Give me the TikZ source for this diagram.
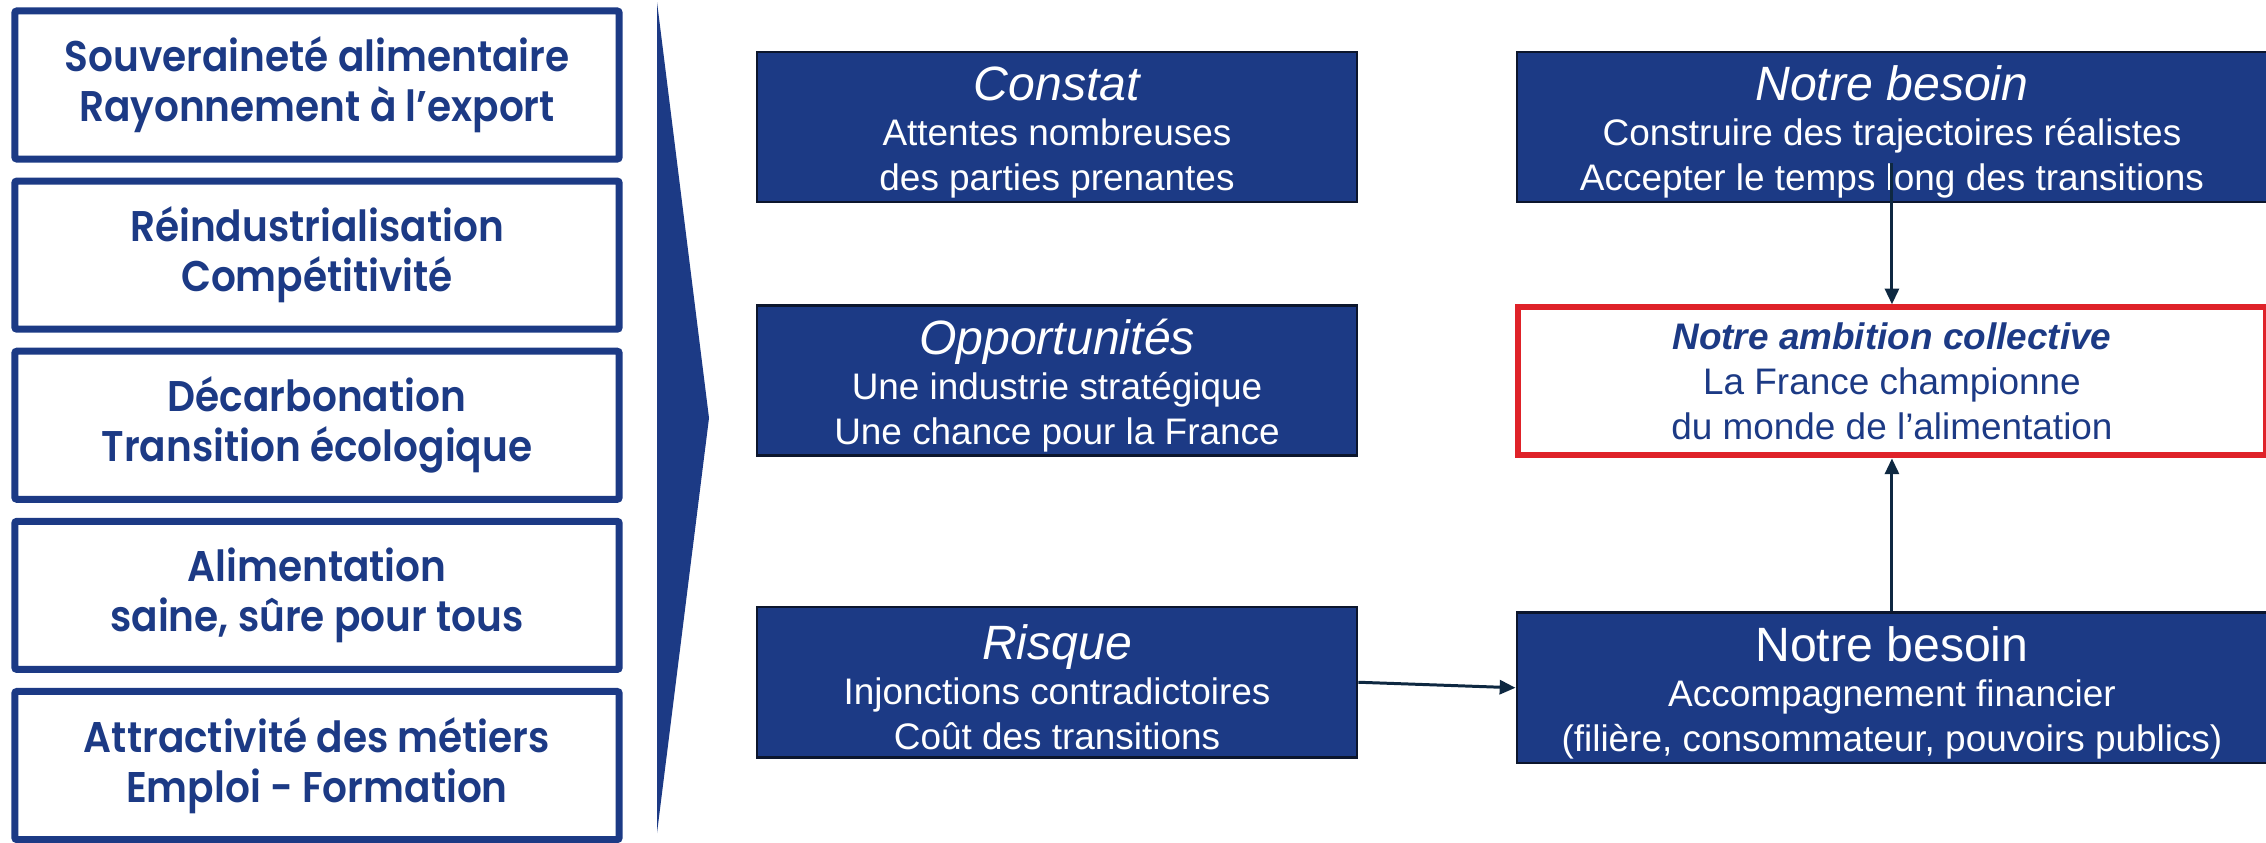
\documentclass[tikz,border=0pt]{standalone}
\usepackage{fontspec}
\setmainfont{Liberation Sans}
\newfontfamily\futfont[FakeStretch=0.91, BoldFont={Poppins SemiBold}]{Poppins}
\usetikzlibrary{positioning,arrows.meta}
\definecolor{navy}{RGB}{28,58,133}
\definecolor{edgecol}{RGB}{12,22,45}
\definecolor{arrowcol}{RGB}{14,40,65}
\definecolor{ambred}{RGB}{223,34,41}
\newcommand{\btitle}[1]{{\fontsize{13.7}{12.8}\selectfont\rule{0pt}{12.8pt}#1}}

\begin{document}
\begin{tikzpicture}[x=0.01cm, y=-0.01cm,
    theme/.style={draw=navy, line width=2pt, rounded corners=0.6pt, fill=white,
      text=navy, align=center, minimum width=6.04cm, minimum height=1.48cm,
      font={\futfont\bfseries\fontsize{12.2}{14.2}\selectfont}},
    bluebox/.style={draw=edgecol, line width=0.7pt, fill=navy, text=white,
      align=center, inner sep=0pt, minimum width=6.0cm, minimum height=1.5cm,
      font={\fontsize{10.5}{12.8}\selectfont}},
    widebox/.style={bluebox, minimum width=7.5cm},
    ambbox/.style={draw=ambred, line width=1.7pt, fill=white, text=navy,
      align=center, inner sep=0pt, minimum width=7.47cm, minimum height=1.48cm,
      font={\fontsize{10.5}{12.8}\selectfont}},
    arr/.style={draw=arrowcol, line width=0.85pt, -{Triangle[length=4.5pt,width=4pt]}}]
  \useasboundingbox (0,0) rectangle (2266,842);

  % themes on the left
  \node[theme] (sov) at (317,85) {Souveraineté alimentaire\\Rayonnement à l’export};
  \node[theme, below=0.15cm of sov] (reind) {Réindustrialisation\\Compétitivité};
  \node[theme, below=0.15cm of reind] (decarb) {Décarbonation\\Transition écologique};
  \node[theme, below=0.15cm of decarb] (alim) {Alimentation\\saine, sûre pour tous};
  \node[theme, below=0.15cm of alim] (attract) {Attractivité des métiers\\Emploi - Formation};

  % wedge
  \fill[navy] (657,2) -- (709,418) -- (657,833) -- cycle;

  % middle column
  \node[bluebox] (constat) at (1057,127)
    {\btitle{\itshape Constat}\\Attentes nombreuses\\des parties prenantes};
  \node[bluebox, below=1.01cm of constat] (opport)
    {\btitle{\itshape Opportunités}\\Une industrie stratégique\\Une chance pour la France};
  \node[bluebox, below=1.49cm of opport] (risque)
    {\btitle{\itshape Risque}\\Injonctions contradictoires\\Coût des transitions};

  % right column
  \node[widebox, right=1.57cm of constat] (besoin1)
    {\btitle{\itshape Notre besoin}\\Construire des trajectoires réalistes\\Accepter le temps long des transitions};
  \node[ambbox, below=1.01cm of besoin1] (ambition)
    {{\bfseries\itshape Notre ambition collective}\\La France championne\\du monde de l’alimentation};
  \node[widebox, below=1.53cm of ambition] (besoin2)
    {\btitle{Notre besoin}\\Accompagnement financier\\(filière, consommateur, pouvoirs publics)};

  \draw[arr] ([yshift=0.4cm]besoin1.south) -- (ambition.north);
  \draw[arr] (besoin2.north) -- (ambition.south);
  \draw[arr] (risque.east) -- (besoin2.west);
\end{tikzpicture}
\end{document}
